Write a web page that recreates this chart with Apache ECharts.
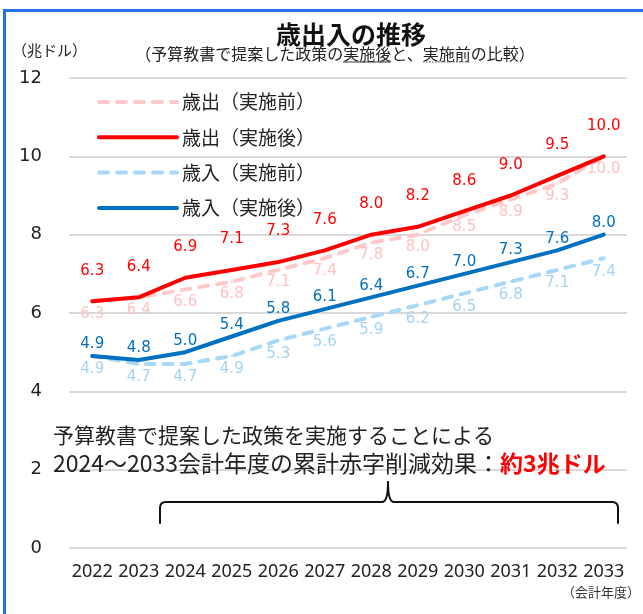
<!DOCTYPE html>
<html>
<head>
<meta charset="utf-8">
<script src="https://cdn.jsdelivr.net/npm/echarts@6/dist/echarts.min.js"></script>
<style>
html,body{margin:0;padding:0;background:#fff;}
#c{width:643px;height:614px;}
</style>
</head>
<body>
<div id="c"></div>
<script>
const years = ['2022','2023','2024','2025','2026','2027','2028','2029','2030','2031','2032','2033'];
const outBefore = [6.3, 6.4, 6.6, 6.8, 7.1, 7.4, 7.8, 8.0, 8.5, 8.9, 9.3, 10.0];
const outAfter  = [6.3, 6.4, 6.9, 7.1, 7.3, 7.6, 8.0, 8.2, 8.6, 9.0, 9.5, 10.0];
const inBefore  = [4.9, 4.7, 4.7, 4.9, 5.3, 5.6, 5.9, 6.2, 6.5, 6.8, 7.1, 7.4];
const inAfter   = [4.9, 4.8, 5.0, 5.4, 5.8, 6.1, 6.4, 6.7, 7.0, 7.3, 7.6, 8.0];
const seriesNames = ['歳出（実施前）','歳出（実施後）','歳入（実施前）','歳入（実施後）'];
const yTicks = {min: 0, max: 12, interval: 2};

const CJK = '"Noto Sans CJK JP", sans-serif';
const NUM = '"DejaVu Sans", Verdana, sans-serif';

function mk(name, data, color, dashed, pos, dist, labelColor, z) {
  return {
    name: name, type: 'line', data: data, z: z,
    symbol: 'circle', symbolSize: 2, showSymbol: true,
    itemStyle: {color: color},
    lineStyle: {color: color, width: 4, type: dashed ? [9, 9] : 'solid', cap: 'round', join: 'round'},
    label: {
      show: true, position: pos, distance: dist, color: labelColor,
      fontSize: 15, fontFamily: NUM,
      formatter: p => Number(p.value).toFixed(1)
    },
    emphasis: {disabled: true},
    animation: false
  };
}

const braceStyle = {stroke: '#111', lineWidth: 2, fill: null, lineCap: 'round'};

const chart = echarts.init(document.getElementById('c'), null, {renderer: 'canvas'});
chart.setOption({
  animation: false,
  backgroundColor: '#ffffff',
  grid: {left: 69, right: 16, top: 78, bottom: 66, containLabel: false, outerBoundsMode: 'none'},
  legend: {
    orient: 'vertical', left: 97, top: 92, padding: 0,
    itemWidth: 78, itemHeight: 14, itemGap: 15.3,
    data: seriesNames,
    textStyle: {fontFamily: CJK, fontSize: 19, color: '#222', lineHeight: 20},
    itemStyle: {opacity: 0},
    lineStyle: {width: 4, cap: 'round'},
    selectedMode: false
  },
  xAxis: {
    type: 'category', data: years, boundaryGap: true,
    axisLine: {show: false}, axisTick: {show: false},
    axisLabel: {interval: 0, fontFamily: '"Noto Sans", sans-serif', fontSize: 18, color: '#222', margin: 15}
  },
  yAxis: {
    type: 'value', min: yTicks.min, max: yTicks.max, interval: yTicks.interval,
    axisLine: {show: false}, axisTick: {show: false},
    splitLine: {lineStyle: {color: '#D9D9D9', width: 2}},
    axisLabel: {fontFamily: NUM, fontSize: 18, color: '#222', margin: 27}
  },
  series: [
    mk(seriesNames[0], outBefore, '#FFC9C9', true, 'bottom', 4, '#FFC2C2', 2),
    mk(seriesNames[1], outAfter, '#FF0000', false, 'top', 22, '#FF0000', 4),
    mk(seriesNames[2], inBefore, '#A8D8F8', true, 'bottom', 5, '#A3D3F5', 2),
    mk(seriesNames[3], inAfter, '#0070C0', false, 'top', 3, '#0070C0', 4)
  ],
  graphic: [
    {type: 'line', shape: {x1: 3, y1: 10.5, x2: 643, y2: 10.5}, style: {stroke: '#2473E6', lineWidth: 3}, z: 100},
    {type: 'line', shape: {x1: 4.5, y1: 9, x2: 4.5, y2: 614}, style: {stroke: '#2473E6', lineWidth: 3}, z: 100},
    {type: 'text', x: 351, y: 34, style: {text: '歳出入の推移', font: 'bold 25px "Noto Sans CJK JP"', fill: '#111', textAlign: 'center', textVerticalAlign: 'middle'}},
    {type: 'text', x: 335, y: 54, style: {text: '（予算教書で提案した政策の実施後と、実施前の比較）', font: '16px "Noto Sans CJK JP"', fill: '#222', textAlign: 'center', textVerticalAlign: 'middle'}},
    {type: 'line', shape: {x1: 343, y1: 62, x2: 391, y2: 62}, style: {stroke: '#333', lineWidth: 1}},
    {type: 'line', shape: {x1: 423, y1: 62, x2: 471, y2: 62}, style: {stroke: '#888', lineWidth: 1.5, lineDash: [1.5, 1.5]}},
    {type: 'text', x: 12, y: 50, style: {text: '（兆ドル）', font: '15px "Noto Sans CJK JP"', fill: '#222', textAlign: 'left', textVerticalAlign: 'middle'}},
    {type: 'text', x: 640, y: 592, style: {text: '（会計年度）', font: '13px "Noto Sans CJK JP"', fill: '#333', textAlign: 'right', textVerticalAlign: 'middle'}},
    {type: 'text', x: 53, y: 435, z: 50, style: {text: '予算教書で提案した政策を実施することによる', font: '21px "Noto Sans CJK JP"', fill: '#222', textAlign: 'left', textVerticalAlign: 'middle'}},
    {type: 'text', x: 53, y: 463, z: 50, style: {
      text: '{a|2024～2033会計年度の累計赤字削減効果：}{b|約3兆ドル}',
      textAlign: 'left', textVerticalAlign: 'middle',
      rich: {
        a: {fontFamily: 'Noto Sans CJK JP', fontSize: 23, fill: '#222', color: '#222'},
        b: {fontFamily: 'Noto Sans CJK JP', fontSize: 23, fontWeight: 'bold', fill: '#FF0000', color: '#FF0000'}
      }
    }},
    {type: 'polyline', z: 50, shape: {points: [[160, 523], [160, 508]]}, style: braceStyle},
    {type: 'bezierCurve', z: 50, shape: {x1: 160, y1: 508, cpx1: 160, cpy1: 502, x2: 166, y2: 502}, style: braceStyle},
    {type: 'polyline', z: 50, shape: {points: [[166, 502], [382, 502]]}, style: braceStyle},
    {type: 'bezierCurve', z: 50, shape: {x1: 382, y1: 502, cpx1: 388, cpy1: 502, x2: 388, y2: 482}, style: braceStyle},
    {type: 'bezierCurve', z: 50, shape: {x1: 388, y1: 482, cpx1: 388, cpy1: 502, x2: 394, y2: 502}, style: braceStyle},
    {type: 'polyline', z: 50, shape: {points: [[394, 502], [612, 502]]}, style: braceStyle},
    {type: 'bezierCurve', z: 50, shape: {x1: 612, y1: 502, cpx1: 618, cpy1: 502, x2: 618, y2: 508}, style: braceStyle},
    {type: 'polyline', z: 50, shape: {points: [[618, 508], [618, 523]]}, style: braceStyle}
  ]
});
</script>
</body>
</html>
